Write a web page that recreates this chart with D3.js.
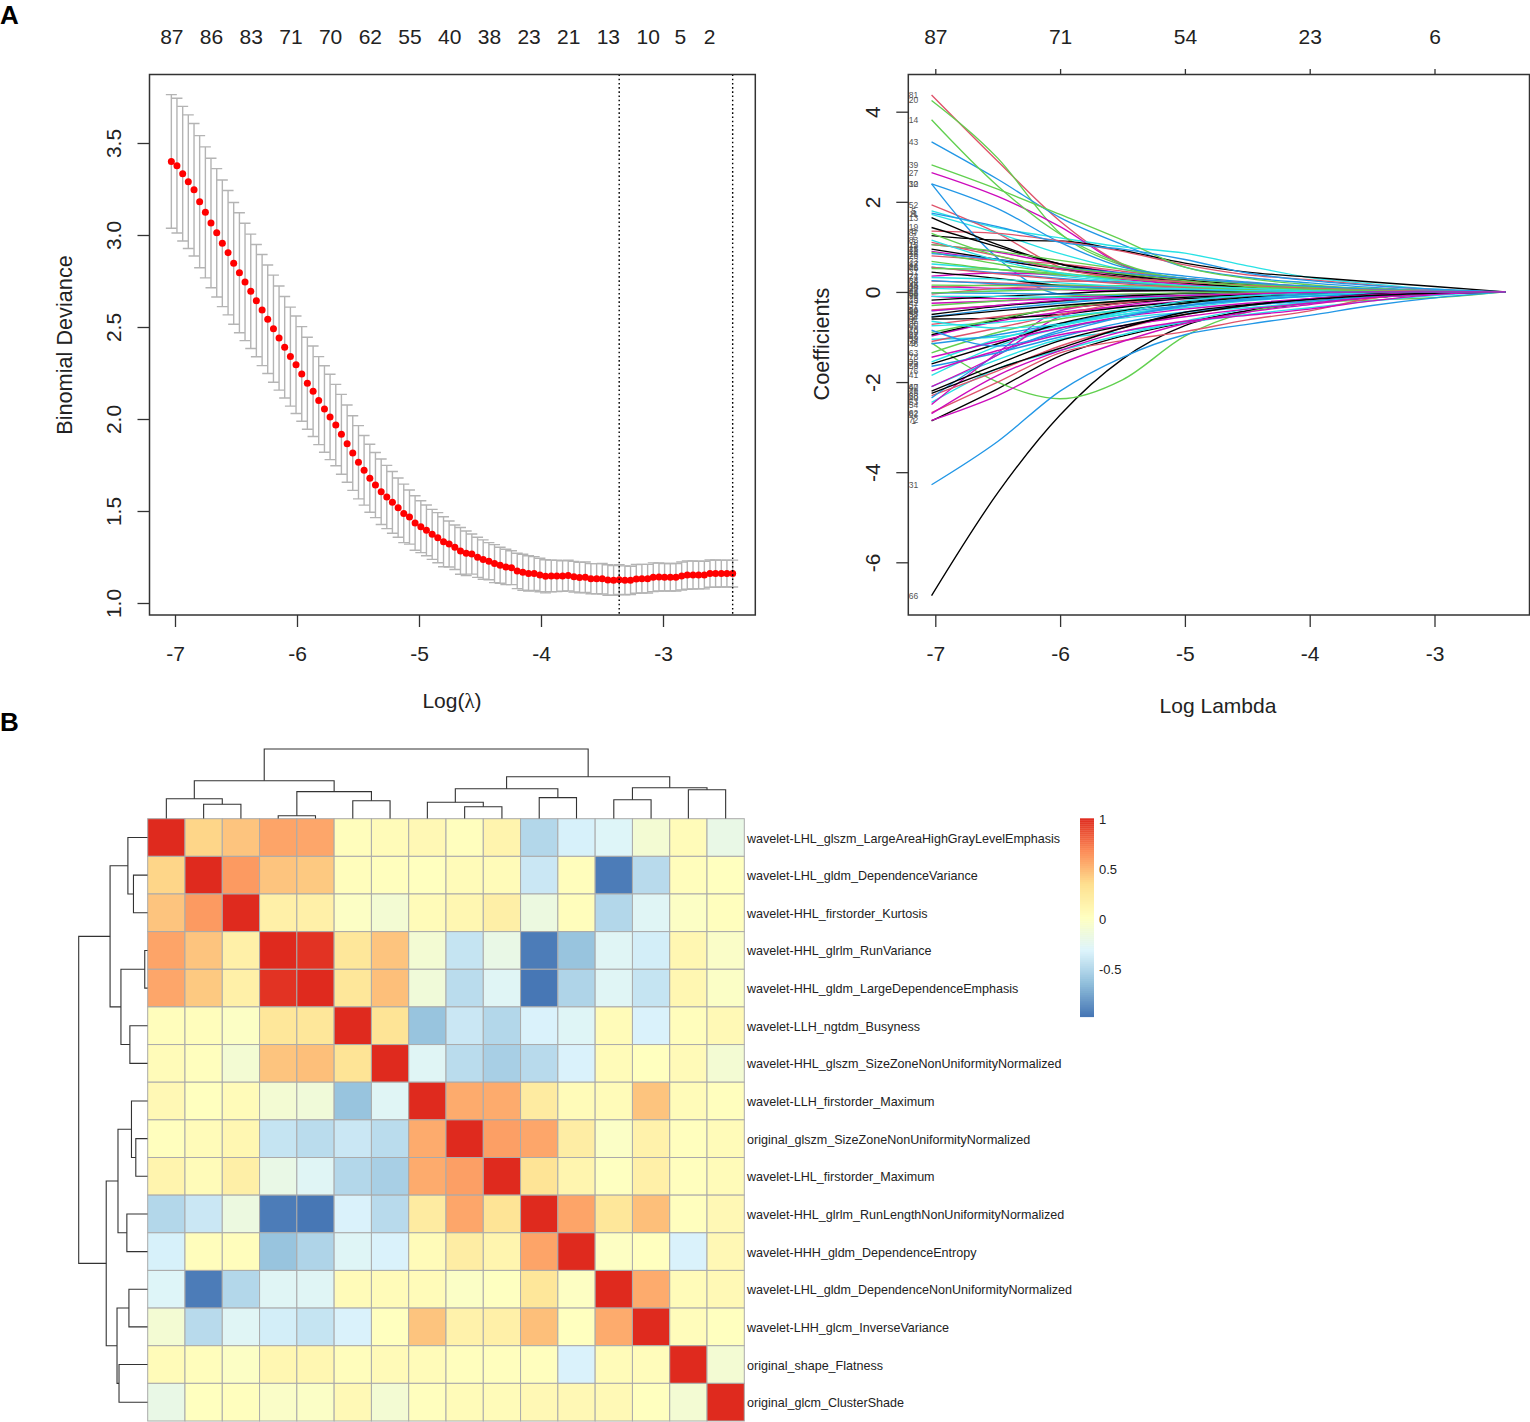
<!DOCTYPE html>
<html>
<head>
<meta charset="utf-8">
<script src="https://d3js.org/d3.v7.min.js"></script>
<style>
  body { margin: 0; background: #fff; }
  svg { display: block; }
  text { font-family: "Liberation Sans", Arial, sans-serif; fill: #222; }
  .axis path.domain { display: none; }
  .axis line { stroke: #333; stroke-width: 1.3; }
  .axis text { font-size: 21px; fill: #222; }
</style>
</head>
<body>
<svg id="chart" width="1530" height="1422"></svg>
<script>
// ---- panel A left: cross validated deviance
const logLambda = [-7.03,-6.984,-6.937,-6.891,-6.844,-6.798,-6.751,-6.705,-6.658,-6.612,-6.565,-6.519,-6.472,-6.426,-6.379,-6.333,-6.286,-6.24,-6.193,-6.147,
  -6.101,-6.054,-6.008,-5.961,-5.915,-5.868,-5.822,-5.775,-5.729,-5.682,-5.636,-5.589,-5.543,-5.496,-5.45,-5.403,-5.357,-5.31,-5.264,-5.218,
  -5.171,-5.125,-5.078,-5.032,-4.985,-4.939,-4.892,-4.846,-4.799,-4.753,-4.706,-4.66,-4.613,-4.567,-4.52,-4.474,-4.427,-4.381,-4.335,-4.288,
  -4.242,-4.195,-4.149,-4.102,-4.056,-4.009,-3.963,-3.916,-3.87,-3.823,-3.777,-3.73,-3.684,-3.637,-3.591,-3.544,-3.498,-3.452,-3.405,-3.359,
  -3.312,-3.266,-3.219,-3.173,-3.126,-3.08,-3.033,-2.987,-2.94,-2.894,-2.847,-2.801,-2.754,-2.708,-2.661,-2.615,-2.569,-2.522,-2.476,-2.429]
const cvMean = [3.40,3.377,3.333,3.29,3.246,3.181,3.123,3.065,3.012,2.955,2.904,2.846,2.795,2.745,2.694,2.643,2.592,2.542,2.491,2.44,
  2.39,2.339,2.295,2.245,2.194,2.151,2.1,2.054,2.011,1.967,1.917,1.866,1.815,1.765,1.721,1.678,1.641,1.605,1.576,1.547,
  1.518,1.487,1.467,1.435,1.415,1.395,1.373,1.355,1.333,1.321,1.303,1.283,1.27,1.266,1.248,1.236,1.227,1.214,1.205,1.196,
  1.192,1.174,1.167,1.161,1.16,1.152,1.145,1.147,1.147,1.147,1.149,1.143,1.138,1.14,1.132,1.132,1.132,1.125,1.123,1.127,
  1.123,1.123,1.131,1.132,1.132,1.14,1.141,1.14,1.14,1.14,1.147,1.152,1.152,1.152,1.152,1.16,1.16,1.16,1.16,1.16]
const cvSd = [.363,.366,.366,.363,.36,.359,.356,.352,.349,.344,.338,.331,.326,.319,.311,.305,.302,.295,.291,.283,
  .276,.269,.265,.257,.25,.246,.239,.235,.232,.221,.217,.21,.203,.199,.189,.185,.177,.178,.172,.168,
  .161,.159,.147,.148,.141,.138,.136,.136,.136,.125,.121,.127,.121,.109,.109,.107,.101,.103,.098,.096,
  .092,.096,.098,.096,.092,.091,.09,.086,.085,.083,.083,.083,.083,.083,.082,.082,.083,.083,.081,.081,
  .079,.077,.078,.078,.078,.078,.076,.075,.075,.075,.076,.077,.076,.075,.075,.074,.074,.073,.073,.073]
const cvTopCounts = [87,86,83,71,70,62,55,40,38,23,21,13,10,5,2]
const cvTopAt = [-7.03,-6.705,-6.379,-6.054,-5.729,-5.403,-5.078,-4.753,-4.427,-4.102,-3.777,-3.452,-3.126,-2.861,-2.623]
const lambdaLines = [-3.359,-2.429]

// ---- panel A right: coefficient paths, one list per line colour
// each row: variable number, then the coefficient at every pathKnots position
const pathKnots = [-7.03,-6.5,-6,-5.5,-5,-4.5,-4,-3.5,-3,-2.43]
const blackPaths = [
  [66,-6.74,-4.46,-2.73,-1.49,-.75,-.42,-.24,-.13,-.05,0],
  [1,-2.86,-2.15,-1.42,-.98,-.68,-.42,-.25,-.12,-.05,0],
  [7,1.25,1.15,1.13,.92,.64,.44,.33,.22,.12,0],
  [13,1.65,1.05,.62,.38,.22,.12,.05,0,0,0],
  [19,1.43,1.0,.62,.4,.26,.16,.08,.02,0,0],
  [25,.95,.72,.5,.34,.2,.1,.03,0,0,0],
  [37,.44,.3,.14,.06,.03,.01,0,0,0,0],
  [49,-.18,-.1,-.04,.02,.03,.02,.01,0,0,0],
  [55,-.5,-.32,-.2,-.1,-.03,-.01,0,0,0,0],
  [61,-.6,-.58,-.5,-.34,-.22,-.12,-.05,0,0,0],
  [67,-.95,-.62,-.36,-.25,-.15,-.08,-.02,0,0,0],
  [73,-1.6,-1.15,-.7,-.42,-.25,-.12,-.04,0,0,0],
  [79,-2.2,-1.6,-1.08,-.75,-.5,-.3,-.16,-.05,0,0],
  [85,-2.25,-1.7,-1.25,-.8,-.45,-.28,-.17,-.08,-.03,0],
  [2,-.56,-.42,-.3,-.2,-.12,-.06,-.02,0,0,0]
]
const redPaths = [
  [81,4.37,2.9,1.57,.62,.24,.1,.04,0,0,0],
  [52,1.93,1.3,.55,.3,.18,.1,.04,.01,0,0],
  [8,1.35,1.3,1.13,.9,.6,.38,.27,.15,.05,0],
  [26,.8,.7,.62,.46,.3,.2,.12,.06,.02,0],
  [38,.24,.2,.15,.12,.08,.04,.02,0,0,0],
  [44,.1,.16,.24,.22,.12,.05,.02,0,0,0],
  [50,-.05,.08,.12,.1,.06,.03,.01,0,0,0],
  [56,-.4,-.3,-.2,-.12,-.08,-.04,-.01,0,0,0],
  [62,-2.68,-2.0,-1.35,-1.08,-.88,-.62,-.42,-.14,-.03,0],
  [68,-2.3,-1.75,-1.2,-.8,-.5,-.3,-.15,-.05,0,0],
  [74,-1.1,-.8,-.5,-.25,-.12,-.06,-.02,0,0,0],
  [80,-.72,-.55,-.38,-.22,-.1,-.03,0,0,0,0],
  [86,.55,.4,.28,.18,.1,.05,.02,0,0,0],
  [3,1.1,.8,.5,.32,.22,.14,.08,.04,.01,0]
]
const greenPaths = [
  [20,4.25,2.97,1.3,.58,.2,.1,.04,.01,0,0],
  [14,3.82,2.35,1.28,.62,.26,.13,.05,.01,0,0],
  [39,2.82,2.28,1.72,1.15,.55,.3,.16,.06,.01,0],
  [9,-1.13,-2.0,-2.37,-1.95,-.98,-.45,-.25,-.18,-.13,0],
  [15,1.05,.9,.7,.5,.3,.18,.1,.06,.02,0],
  [21,.88,.62,.42,.3,.22,.15,.12,.08,.02,0],
  [33,.68,.5,.38,.3,.22,.14,.08,.03,0,0],
  [45,.15,.14,.15,.14,.12,.09,.05,.02,0,0],
  [51,-.02,.02,.05,.07,.07,.06,.04,.02,0,0],
  [57,-.3,-.2,-.1,-.05,-.02,0,0,0,0,0],
  [63,-1.35,-.9,-.6,-.4,-.25,-.12,-.05,0,0,0],
  [69,-.9,-.6,-.35,-.2,-.1,-.03,0,0,0,0],
  [75,.52,.5,.4,.25,.12,.05,.02,0,0,0],
  [87,1.3,.8,.55,.4,.25,.12,.06,.03,0,0]
]
const bluePaths = [
  [43,3.33,2.5,1.65,1.05,.55,.32,.2,.1,.03,0],
  [32,2.4,1.85,1.1,.55,.35,.22,.12,.05,.01,0],
  [10,2.4,.75,-.05,-.1,-.08,-.04,-.01,0,0,0],
  [31,-4.28,-3.32,-2.2,-1.45,-.95,-.72,-.52,-.3,-.13,0],
  [4,1.75,1.45,1.1,.95,.72,.42,.25,.14,.06,0],
  [16,.85,.72,.55,.42,.3,.2,.13,.06,.02,0],
  [22,.55,.42,.3,.2,.12,.06,.02,0,0,0],
  [28,-.02,-.03,-.05,-.08,-.1,-.07,-.04,-.01,0,0],
  [34,-.55,-.38,-.25,-.15,-.08,-.03,0,0,0,0],
  [40,-2.35,-1.4,-.85,-.55,-.32,-.18,-.08,-.02,0,0],
  [46,-1.15,-.95,-.7,-.45,-.3,-.18,-.1,-.04,0,0],
  [58,-1.65,-1.35,-1.0,-.68,-.45,-.3,-.2,-.1,-.04,0],
  [64,.25,.18,.12,.08,.05,.03,.01,0,0,0],
  [70,-.85,-1.2,-.9,-.55,-.3,-.15,-.05,0,0,0]
]
const cyanPaths = [
  [5,1.8,1.42,1.2,1.0,.86,.58,.32,.18,.06,0],
  [11,1.72,1.3,.85,.5,.3,.18,.1,.05,.01,0],
  [17,.62,.5,.35,.22,.12,.06,.02,0,0,0],
  [23,.08,.05,.08,.1,.08,.05,.02,0,0,0],
  [29,-.42,-.3,-.22,-.15,-.1,-.06,-.02,0,0,0],
  [35,-1.55,-1.05,-.72,-.5,-.35,-.2,-.1,-.03,0,0],
  [41,-1.85,-1.2,-.8,-.58,-.45,-.35,-.25,-.12,-.05,0],
  [47,-2.1,-1.5,-1.05,-.88,-.68,-.5,-.35,-.2,-.08,0],
  [53,-2.45,-1.7,-1.3,-.95,-.65,-.38,-.22,-.1,-.03,0],
  [59,-1.05,-1.0,-.75,-.5,-.3,-.16,-.07,-.02,0,0],
  [65,-.75,-.68,-.55,-.4,-.25,-.14,-.06,-.01,0,0],
  [71,-.1,-.1,-.12,-.14,-.12,-.08,-.04,-.01,0,0],
  [77,.32,.28,.2,.12,.07,.03,.01,0,0,0],
  [83,1.15,.7,.42,.25,.14,.08,.03,0,0,0],
  [6,-.65,-.8,-.72,-.45,-.2,-.08,-.02,0,0,0]
]
const magentaPaths = [
  [27,2.65,2.12,1.45,.6,.28,.15,.07,.02,0,0],
  [12,1.05,.88,.62,.42,.25,.14,.06,.02,0,0],
  [18,.9,.7,.52,.38,.24,.13,.06,.01,0,0],
  [24,.35,.42,.38,.28,.16,.08,.03,0,0,0],
  [30,.12,.08,.05,.03,.04,.05,.03,.01,0,0],
  [36,-.1,-.15,-.12,-.06,-.03,-.01,0,0,0,0],
  [42,-.25,-.2,-.15,-.1,-.12,-.08,-.04,-.01,0,0],
  [48,-.98,-.65,-.45,-.32,-.2,-.1,-.03,0,0,0],
  [54,-2.5,-1.35,-.42,-.22,-.12,-.05,-.01,0,0,0],
  [60,-2.1,-1.4,-.55,-.3,-.15,-.07,-.02,0,0,0],
  [72,-2.85,-2.3,-1.6,-1.1,-.7,-.45,-.28,-.12,-.03,0],
  [76,-1.75,-1.3,-.95,-.75,-.55,-.38,-.25,-.12,-.04,0],
  [78,-1.45,-1.1,-.8,-.55,-.38,-.25,-.15,-.06,-.01,0],
  [82,-2.7,-1.85,-1.3,-.88,-.65,-.52,-.38,-.2,-.06,0],
  [84,-.42,-.3,-.18,-.12,-.08,-.04,-.01,0,0,0]
]
const pathColors = ['#000000','#DF536B','#61D04F','#2297E6','#28E2E5','#CD0BBC']
const coefTopCounts = [87,71,54,23,6]

// ---- panel B: correlation heatmap
const featureNames = [
  'wavelet-LHL_glszm_LargeAreaHighGrayLevelEmphasis',
  'wavelet-LHL_gldm_DependenceVariance',
  'wavelet-HHL_firstorder_Kurtosis',
  'wavelet-HHL_glrlm_RunVariance',
  'wavelet-HHL_gldm_LargeDependenceEmphasis',
  'wavelet-LLH_ngtdm_Busyness',
  'wavelet-HHL_glszm_SizeZoneNonUniformityNormalized',
  'wavelet-LLH_firstorder_Maximum',
  'original_glszm_SizeZoneNonUniformityNormalized',
  'wavelet-LHL_firstorder_Maximum',
  'wavelet-HHL_glrlm_RunLengthNonUniformityNormalized',
  'wavelet-HHH_gldm_DependenceEntropy',
  'wavelet-LHL_gldm_DependenceNonUniformityNormalized',
  'wavelet-LHH_glcm_InverseVariance',
  'original_shape_Flatness',
  'original_glcm_ClusterShade'
]
const corrMatrix = [
  [1,.38,.45,.58,.57,.03,.05,.08,.02,.13,-.5,-.34,-.3,-.1,.05,-.2],
  [.38,1,.62,.45,.43,.03,.02,.01,.05,.05,-.4,.03,-.95,-.48,.03,.01],
  [.45,.62,1,.17,.17,-.02,-.1,.05,.1,.18,-.17,.03,-.5,-.28,-.02,.02],
  [.58,.45,.17,1,.97,.27,.45,-.1,-.42,-.2,-.95,-.62,-.28,-.36,.1,-.04],
  [.57,.43,.17,.97,1,.27,.47,-.13,-.47,-.28,-.97,-.52,-.28,-.42,.1,-.03],
  [.03,.03,-.02,.27,.27,1,.3,-.62,-.4,-.5,-.33,-.29,.05,-.33,.03,.07],
  [.05,.02,-.1,.45,.47,.3,1,-.28,-.47,-.55,-.48,-.33,.05,.01,.06,-.1],
  [.08,.01,.05,-.1,-.13,-.62,-.28,1,.55,.55,.22,.05,.05,.45,.05,.02],
  [.02,.05,.1,-.42,-.47,-.4,-.47,.55,1,.6,.57,.2,-.03,.15,.02,.05],
  [.13,.05,.18,-.2,-.28,-.5,-.55,.55,.6,1,.3,.12,0,.17,.02,.05],
  [-.5,-.4,-.17,-.95,-.97,-.33,-.48,.22,.57,.3,1,.58,.27,.47,.02,.08],
  [-.34,.03,.03,-.62,-.52,-.29,-.33,.05,.2,.12,.58,1,-.01,.01,-.33,.08],
  [-.3,-.95,-.5,-.28,-.28,.05,.05,.05,-.03,0,.27,-.01,1,.55,.05,.07],
  [-.1,-.48,-.28,-.36,-.42,-.33,.01,.45,.15,.17,.47,.01,.55,1,.04,.01],
  [.05,.03,-.02,.1,.1,.03,.06,.05,.02,.02,.02,-.33,.05,.04,1,-.1],
  [-.2,.01,.02,-.04,-.03,.07,-.1,.02,.05,.05,.08,.08,.07,.01,-.1,1]
]
// same cluster tree on rows and columns: [height, left, right], a number is a leaf
const clusterTree = [1,
  [.544,
    [.285, 0, [.204, 1, 2]],
    [.386, [.04, 3, 4], [.256, 5, 6]]],
  [.6,
    [.429, [.233, 7, [.17, 8, 9]], [.3, 10, 11]],
    [.443, [.27, 12, 13], [.414, 14, 15]]]
]
const heatStops = [-.98,-.65,-.32,.01,.34,.67,1]
const heatColors = ['#4575B4','#91BFDB','#DCF4FC','#FFFFBF','#FEE090','#FC8D59','#DF2A1E']
const legendTicks = [1,.5,0,-.5]

const svg = d3.select('#chart')
svg.append('rect').attr('width', 1530).attr('height', 1422).attr('fill', '#fff')

svg.append('text').attr('x', 0).attr('y', 23.5).attr('font-size', 26).attr('font-weight', 700).style('fill', '#000').text('A')
svg.append('text').attr('x', 0).attr('y', 731).attr('font-size', 26).attr('font-weight', 700).style('fill', '#000').text('B')

function drawBox(box) {
	svg.append('rect')
		.attr('x', box.left).attr('y', box.top)
		.attr('width', box.right - box.left).attr('height', box.bottom - box.top)
		.attr('fill', 'none').attr('stroke', '#333').attr('stroke-width', 1.5)
}

// R style axes, left labels are turned on their side
function drawAxes(box, x, y, yTicks, xTicks, yFmt) {
	svg.append('g').attr('class', 'axis')
		.attr('transform', `translate(0,${box.bottom})`)
		.call(d3.axisBottom(x).tickValues(xTicks).tickSize(12).tickPadding(19).tickFormat(d => String(d)))
	const yAxis = svg.append('g').attr('class', 'axis')
		.attr('transform', `translate(${box.left},0)`)
		.call(d3.axisLeft(y).tickValues(yTicks).tickSize(12).tickFormat(yFmt))
	yAxis.selectAll('text')
		.attr('x', null).attr('dy', null)
		.attr('text-anchor', 'middle')
		.attr('transform', 'translate(-28.5,0) rotate(-90)')
}

function sideLabel(x, y, label) {
	svg.append('text')
		.attr('transform', `translate(${x},${y}) rotate(-90)`)
		.attr('text-anchor', 'middle').attr('font-size', 21.7).text(label)
}

function drawDeviance() {
	const box = {left: 149.5, right: 755.3, top: 74.5, bottom: 615}
	const x = d3.scaleLinear().domain([-7, -3]).range([175, 663])
	const y = d3.scaleLinear().domain([1, 3.5]).range([603, 143])

	drawAxes(box, x, y, [1, 1.5, 2, 2.5, 3, 3.5], [-7, -6, -5, -4, -3], d3.format('.1f'))

	svg.append('g').attr('class', 'axis')
		.attr('transform', `translate(0,${box.top})`)
		.call(d3.axisTop(x).tickValues(cvTopAt).tickSize(0).tickPadding(31)
			.tickFormat((d, i) => cvTopCounts[i]))

	const cv = logLambda.map((l, i) => ({l, m: cvMean[i], sd: cvSd[i]}))

	const bars = svg.append('g').attr('stroke', '#b4b4b4').attr('stroke-width', 1.4).attr('fill', 'none')
	bars.selectAll('path').data(cv).join('path')
		.attr('d', d => {
			const px = x(d.l), hi = y(d.m + d.sd), lo = y(d.m - d.sd)
			return `M${px - 5.5},${hi}H${px + 5.5}M${px},${hi}V${lo}M${px - 5.5},${lo}H${px + 5.5}`
		})

	svg.append('g').selectAll('circle').data(cv).join('circle')
		.attr('cx', d => x(d.l)).attr('cy', d => y(d.m)).attr('r', 3.5).attr('fill', '#ff0000')

	svg.append('g').selectAll('line').data(lambdaLines).join('line')
		.attr('x1', d => x(d)).attr('x2', d => x(d))
		.attr('y1', box.top).attr('y2', box.bottom)
		.attr('stroke', '#000').attr('stroke-width', 1.4).attr('stroke-dasharray', '1.6,2.6')

	drawBox(box)

	sideLabel(72, 345, 'Binomial Deviance')
	const label = svg.append('text').attr('x', 452).attr('y', 708).attr('text-anchor', 'middle').attr('font-size', 21)
	label.append('tspan').text('Log(')
	label.append('tspan').style('font-family', '"Liberation Serif"').text('λ')
	label.append('tspan').text(')')
}

function drawCoefficients() {
	const box = {left: 908.3, right: 1529.5, top: 74.5, bottom: 615}
	const x = d3.scaleLinear().domain([-7, -3]).range([935.3, 1434.5])
	const y = d3.scaleLinear().domain([-6, 4]).range([562.3, 111.7])

	drawAxes(box, x, y, [-6, -4, -2, 0, 2, 4], [-7, -6, -5, -4, -3], d => String(d))

	svg.append('g').attr('class', 'axis')
		.attr('transform', `translate(0,${box.top})`)
		.call(d3.axisTop(x).tickValues([-7, -6, -5, -4, -3]).tickSize(5.5).tickPadding(25.5)
			.tickFormat((d, i) => coefTopCounts[i]))

	// variables are drawn in turn through the colours, like matplot does
	const colourLists = [blackPaths, redPaths, greenPaths, bluePaths, cyanPaths, magentaPaths]
	const paths = []
	d3.range(15).forEach(i => {
		colourLists.forEach((list, c) => {
			if (list[i]) paths.push({id: list[i][0], values: list[i].slice(1), color: pathColors[c]})
		})
	})

	const line = d3.line()
		.x((d, i) => x(pathKnots[i]))
		.y(d => y(d))
		.curve(d3.curveMonotoneX)

	svg.append('g').attr('fill', 'none').attr('stroke-width', 1.35)
		.selectAll('path').data(paths).join('path')
		.attr('stroke', d => d.color)
		.attr('d', d => line(d.values))

	svg.append('g').selectAll('text').data(paths).join('text')
		.attr('x', 913.5).attr('y', d => y(d.values[0]))
		.attr('dy', '0.35em').attr('text-anchor', 'middle')
		.attr('font-size', 8.5).style('fill', '#555')
		.text(d => d.id)

	drawBox(box)

	sideLabel(829, 344, 'Coefficients')
	svg.append('text').attr('x', 1218).attr('y', 713).attr('text-anchor', 'middle').attr('font-size', 21).text('Log Lambda')
}

function drawHeatmap() {
	const order = d3.range(featureNames.length)
	const x = d3.scaleBand().domain(order).range([147.7, 744.3])
	const y = d3.scaleBand().domain(order).range([818.7, 1421])
	const color = d3.scaleLinear().domain(heatStops).range(heatColors).clamp(true)

	const cells = corrMatrix.flatMap((row, r) => row.map((v, c) => ({r, c, v})))
	svg.append('g').selectAll('rect').data(cells).join('rect')
		.attr('x', d => x(d.c)).attr('y', d => y(d.r))
		.attr('width', x.bandwidth()).attr('height', y.bandwidth())
		.attr('fill', d => color(d.v))
		.attr('stroke', '#aaa').attr('stroke-width', 1)

	svg.append('g').selectAll('text').data(featureNames).join('text')
		.attr('x', 747).attr('y', (d, i) => y(i) + y.bandwidth() / 2)
		.attr('dy', '0.4em').attr('font-size', 12.55).text(d => d)

	// dendrograms
	const root = d3.hierarchy(clusterTree, d => Array.isArray(d) ? d.slice(1) : null)
	root.eachAfter(n => {
		if (n.children) {
			n.h = n.data[0]
			n.pos = d3.mean(n.children, c => c.pos)
		} else {
			n.h = 0
			n.pos = n.data + 0.5
		}
	})
	const inner = root.descendants().filter(n => n.children)
	const band = x.bandwidth()
	const colH = d3.scaleLinear().domain([0, 1]).range([818.5, 749])
	const rowH = d3.scaleLinear().domain([0, 1]).range([147.5, 78.7])

	const dendro = svg.append('g').attr('fill', 'none').attr('stroke', '#333').attr('stroke-width', 1.1)
	dendro.append('g').selectAll('path').data(inner).join('path')
		.attr('d', n => {
			const [a, b] = n.children
			const x0 = x(0) + a.pos * band, x1 = x(0) + b.pos * band
			return `M${x0},${colH(a.h)}V${colH(n.h)}H${x1}V${colH(b.h)}`
		})
	dendro.append('g').selectAll('path').data(inner).join('path')
		.attr('d', n => {
			const [a, b] = n.children
			const y0 = y(0) + a.pos * y.bandwidth(), y1 = y(0) + b.pos * y.bandwidth()
			return `M${rowH(a.h)},${y0}H${rowH(n.h)}V${y1}H${rowH(b.h)}`
		})

	// colour legend
	const legendY = d3.scaleLinear().domain([-.98, 1]).range([1016.7, 818.3])
	const steps = d3.range(100)
	const stepH = (legendY(-.98) - legendY(1)) / steps.length
	svg.append('g').selectAll('rect').data(steps).join('rect')
		.attr('x', 1080).attr('width', 14)
		.attr('y', i => 818.3 + i * stepH).attr('height', stepH + 0.4)
		.attr('fill', i => color(1 - (i + 0.5) / steps.length * 1.98))
	svg.append('g').selectAll('text').data(legendTicks).join('text')
		.attr('x', 1099).attr('y', d => legendY(d))
		.attr('dy', '0.45em').attr('font-size', 13).text(d => String(d))
}

drawDeviance()
drawCoefficients()
drawHeatmap()
</script>
</body>
</html>
